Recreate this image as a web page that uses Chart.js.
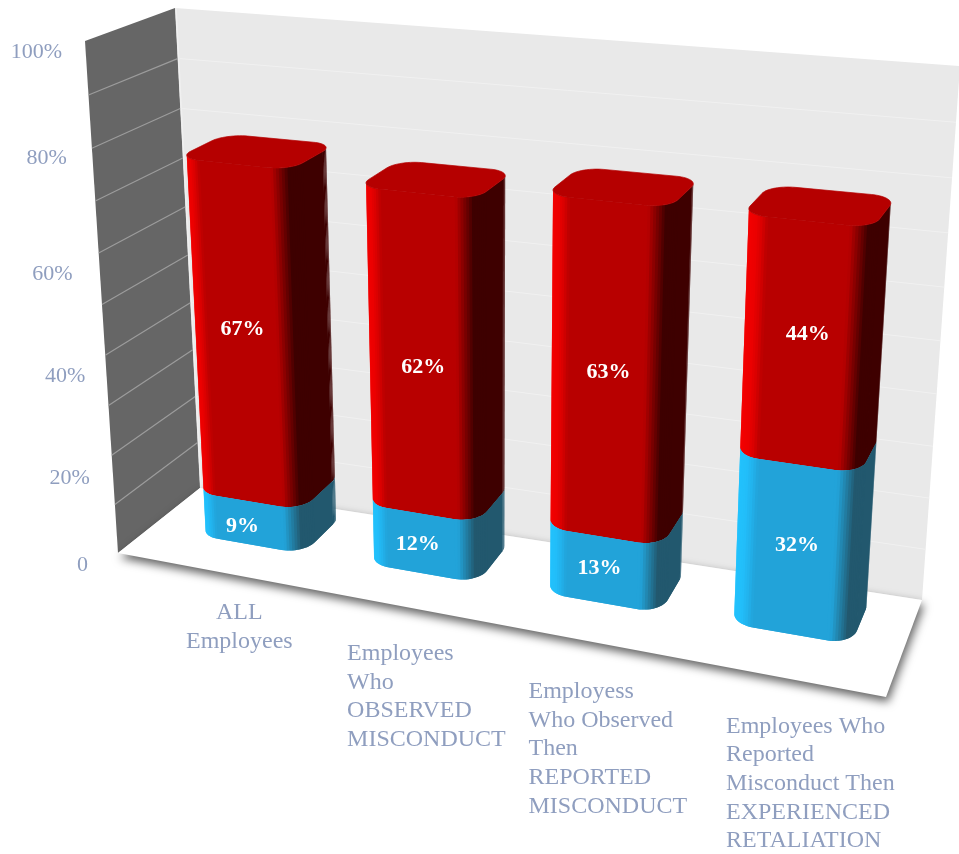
<!DOCTYPE html>
<html>
<head>
<meta charset="utf-8">
<style>html,body{margin:0;padding:0;background:#fff}canvas{display:block}</style>
<script src="https://cdn.jsdelivr.net/npm/chart.js@4"></script>
</head>
<body>
<canvas id="c" width="959" height="854"></canvas>
<script>
// Category labels, one array entry per printed line
const categories = [
  ["ALL", "Employees"],
  ["Employees", "Who", "OBSERVED", "MISCONDUCT"],
  ["Employess", "Who Observed", "Then", "REPORTED", "MISCONDUCT"],
  ["Employees Who", "Reported", "Misconduct Then", "EXPERIENCED", "RETALIATION"]
];
// Stacked percentages, bottom segment first
const lowerValues = [9, 12, 13, 32];
const upperValues = [67, 62, 63, 44];

const AXIS_COLOR = "#8f9ebf";
const SERIF = '"Liberation Serif", serif';

// Corners of the 3D chart box on the canvas: [x, y]
const box = {
  floorFrontLeft: [118, 553], floorFrontRight: [886, 697],
  floorBackLeft: [200, 488], floorBackRight: [922, 600],
  topFrontLeft: [85, 41], topFrontRight: [915, 115],
  topBackLeft: [175, 8], topBackRight: [960, 66]
};
const lerp = (a, b, t) => a + (b - a) * t;
const lerp2 = (a, b, t) => [lerp(a[0], b[0], t), lerp(a[1], b[1], t)];
const warp = (t, k) => t / (t + k * (1 - t));

// Trilinear projection of box coordinates (each 0..1) to canvas pixels
function project(u, v, w) {
  const fl = lerp2(box.floorFrontLeft, box.topFrontLeft, v);
  const fr = lerp2(box.floorFrontRight, box.topFrontRight, v);
  const bl = lerp2(box.floorBackLeft, box.topBackLeft, v);
  const br = lerp2(box.floorBackRight, box.topBackRight, v);
  return lerp2(lerp2(fl, fr, u), lerp2(bl, br, u), w);
}
// Scale pixels to box coordinates, with a mild perspective foreshortening
function boxU(chart, px) {
  const s = chart.scales.x;
  return 0.0215 + 0.9575 * warp((px - s.left) / s.width, 1.1);
}
function boxV(chart, py) {
  const s = chart.scales.y;
  return warp((s.bottom - py) / (s.bottom - s.top), 1.06);
}

// Depth range of the columns and the rounding of their footprint
const frontDepth = u => 0.39 + 0.07 * u;
const DEPTH_BACK = 0.97;
const ROUND_U = 0.2, ROUND_W = 0.28;

function footprint(u0, u1) {
  const front = frontDepth((u0 + u1) / 2);
  const rx = (u1 - u0) * ROUND_U, rw = (DEPTH_BACK - front) * ROUND_W;
  const corners = [
    [u0 + rx, front + rw, 180], [u1 - rx, front + rw, 270],
    [u1 - rx, DEPTH_BACK - rw, 360], [u0 + rx, DEPTH_BACK - rw, 450]
  ];
  const pts = [];
  corners.forEach(([cu, cw, start]) => {
    for (let i = 0; i <= 14; i++) {
      const a = start + i * 90 / 14, r = a * Math.PI / 180;
      pts.push({u: cu + rx * Math.cos(r), w: cw + rw * Math.sin(r), a});
    }
  });
  pts.push({...pts[0], a: 540});
  return pts;
}

// Colour ramps across the visible side of a column, from far left (-90) to far right (+90)
const shades = {
  red: [[-90, [252, 0, 0]], [-30, [236, 0, 0]], [-14, [216, 0, 0]], [0, [184, 0, 0]], [8, [184, 0, 0]], [48, [62, 0, 0]], [90, [62, 0, 0]]],
  blue: [[-90, [34, 198, 255]], [-30, [34, 190, 250]], [-14, [34, 178, 236]], [0, [34, 163, 217]], [8, [34, 163, 217]], [48, [34, 88, 110]], [90, [34, 88, 110]]]
};
function shade(stops, t) {
  for (let i = 1; i < stops.length; i++) {
    if (t <= stops[i][0]) {
      const f = (t - stops[i - 1][0]) / (stops[i][0] - stops[i - 1][0]);
      const c = stops[i - 1][1].map((x, k) => Math.round(lerp(x, stops[i][1][k], Math.max(0, f))));
      return `rgb(${c[0]},${c[1]},${c[2]})`;
    }
  }
  const c = stops[stops.length - 1][1];
  return `rgb(${c[0]},${c[1]},${c[2]})`;
}

function polygon(ctx, pts) {
  ctx.beginPath();
  pts.forEach((p, i) => i ? ctx.lineTo(p[0], p[1]) : ctx.moveTo(p[0], p[1]));
  ctx.closePath();
}

// Bar controller that renders each stacked segment as a rounded 3D column
class Column3DController extends Chart.BarController {
  draw() {
    const chart = this.chart, ctx = chart.ctx, meta = this.getMeta();
    const ds = this.getDataset();
    const stops = shades[ds.shade];
    meta.data.forEach(bar => {
      const half = bar.width / 2;
      const u0 = boxU(chart, bar.x - half), u1 = boxU(chart, bar.x + half);
      const v0 = boxV(chart, bar.base), v1 = boxV(chart, bar.y);
      const pts = footprint(u0, u1);
      // Strips run left to right, each overlapping the next so no seams show
      for (let i = 0; i < pts.length - 1; i++) {
        const a = pts[i], b = pts[i + 1], c = pts[Math.min(i + 2, pts.length - 1)];
        const q = [project(a.u, v0, a.w), project(b.u, v0, b.w), project(b.u, v1, b.w), project(a.u, v1, a.w)];
        let area = 0;
        q.forEach((p, k) => { const n = q[(k + 1) % 4]; area += p[0] * n[1] - n[0] * p[1]; });
        if (area >= 0) continue;
        const theta = (a.a + b.a) / 2 - 270;
        const col = shade(stops, theta);
        const next = project(c.u, v0, c.w), nextTop = project(c.u, v1, c.w);
        const visibleNext = (theta + (b.a + c.a) / 2 - 270) / 2 < 90;
        const wide = visibleNext ? [q[0], q[1], next, nextTop, q[2], q[3]] : q;
        ctx.fillStyle = col;
        polygon(ctx, wide); ctx.fill();
      }
      if (ds.capped) {
        polygon(ctx, pts.map(p => project(p.u, v1, p.w)));
        ctx.fillStyle = "#b50000"; ctx.strokeStyle = "#b50000"; ctx.lineWidth = 0.7;
        ctx.fill(); ctx.stroke();
      }
    });
  }
}
Column3DController.id = "column3d";
Column3DController.defaults = Chart.BarController.defaults;
Column3DController.overrides = Chart.BarController.overrides;
Chart.register(Column3DController);

// Offsets of axis text from the projected axis position: tick value -> [dx, dy]
const yLabelOffset = {100: [-23, 11], 80: [-25, 10], 60: [-26, 21], 40: [-20, 21], 20: [-22, 23], 0: [-30, 12]};
const xLabelOffset = [[-33, 41], [-47, 49], [-49, 52.5], [-44, 51]];
const LINE_HEIGHT = 28.7;
// Offsets of the value labels from the centre of each segment's front, per series
const lowerLabelOffset = [[-6, 4], [-3, 1], [-2, -2], [4, -5]];
const upperLabelOffset = [[2, -6], [5, 11], [4, 0], [6, -10]];

const scene = {
  id: "scene",
  beforeDatasetsDraw(chart) {
    const ctx = chart.ctx, y = chart.scales.y;
    // Back wall and side wall
    polygon(ctx, [project(0, 0, 1), project(0, 1, 1), project(1, 1, 1), project(1, 0, 1)]);
    ctx.fillStyle = "#e9e9e9"; ctx.fill();
    polygon(ctx, [project(0, 0, 0), project(0, 1, 0), project(0, 1, 1), project(0, 0, 1)]);
    ctx.fillStyle = "#666666"; ctx.fill();
    // Gridlines run along both walls
    y.ticks.forEach(t => {
      if (t.value === 0 || t.value === 100) return;
      const v = boxV(chart, y.getPixelForValue(t.value));
      const a = project(0, v, 0), b = project(0, v, 1), c = project(1, v, 1);
      ctx.lineWidth = 1.2;
      ctx.strokeStyle = "#9c9c9c";
      ctx.beginPath(); ctx.moveTo(a[0], a[1]); ctx.lineTo(b[0], b[1]); ctx.stroke();
      ctx.lineWidth = 1;
      ctx.strokeStyle = "#f1f1f1";
      ctx.beginPath(); ctx.moveTo(b[0] + 2, b[1]); ctx.lineTo(c[0], c[1]); ctx.stroke();
    });
    // Pale seam between the walls
    const s0 = project(0, 0, 1), s1 = project(0, 1, 1);
    ctx.strokeStyle = "#f0f0f0"; ctx.lineWidth = 1.5;
    ctx.beginPath(); ctx.moveTo(s0[0] + 1, s0[1]); ctx.lineTo(s1[0] + 1, s1[1]); ctx.stroke();
    // Floor with a soft drop shadow along its open edges
    ctx.save();
    ctx.shadowColor = "rgba(0,0,0,0.62)"; ctx.shadowBlur = 10; ctx.shadowOffsetX = 2; ctx.shadowOffsetY = 5;
    polygon(ctx, [project(0, 0, 0), project(1, 0, 0), project(1, 0, 1), project(0, 0, 1)]);
    ctx.fillStyle = "#ffffff"; ctx.fill();
    ctx.restore();
    // Value axis labels
    ctx.font = "22px " + SERIF; ctx.fillStyle = AXIS_COLOR;
    ctx.textAlign = "right"; ctx.textBaseline = "middle";
    y.ticks.forEach(t => {
      if (!t.label) return;
      const p = project(0, boxV(chart, y.getPixelForValue(t.value)), 0);
      const off = yLabelOffset[t.value];
      ctx.fillText(t.label, p[0] + off[0], p[1] + off[1]);
    });
    // Category labels under the front edge of the floor
    const x = chart.scales.x;
    ctx.font = "24px " + SERIF; ctx.textBaseline = "middle";
    categories.forEach((lines, i) => {
      const p = project(boxU(chart, x.getPixelForValue(i)), 0, 0);
      const left = p[0] + xLabelOffset[i][0], top = p[1] + xLabelOffset[i][1];
      ctx.textAlign = "left";
      lines.forEach((line, k) => {
        let lx = left;
        if (i === 0) { // first category is centred on its longest line
          const widest = Math.max(...lines.map(l => ctx.measureText(l).width));
          lx = left + (widest - ctx.measureText(line).width) / 2;
        }
        ctx.fillText(line, lx, top + k * LINE_HEIGHT);
      });
    });
  },
  afterDatasetsDraw(chart) {
    // Value labels on the front of each segment
    const ctx = chart.ctx;
    ctx.font = "bold 22px " + SERIF; ctx.fillStyle = "#ffffff";
    ctx.textAlign = "center"; ctx.textBaseline = "middle";
    const offsets = [lowerLabelOffset, upperLabelOffset];
    chart.data.datasets.forEach((ds, di) => {
      chart.getDatasetMeta(di).data.forEach((bar, i) => {
        const u = boxU(chart, bar.x), v = boxV(chart, (bar.y + bar.base) / 2);
        const p = project(u, v, frontDepth(u));
        ctx.fillText(ds.data[i] + "%", p[0] + offsets[di][i][0], p[1] + offsets[di][i][1]);
      });
    });
  }
};

new Chart(document.getElementById("c"), {
  type: "column3d",
  data: {
    labels: categories,
    datasets: [
      {label: "Lower", data: lowerValues, shade: "blue", capped: false, backgroundColor: "#22a3d9", barPercentage: 0.64, categoryPercentage: 1},
      {label: "Upper", data: upperValues, shade: "red", capped: true, backgroundColor: "#b80000", barPercentage: 0.64, categoryPercentage: 1}
    ]
  },
  options: {
    responsive: false,
    animation: false,
    events: [],
    layout: {padding: 0},
    plugins: {legend: {display: false}, tooltip: {enabled: false}},
    scales: {
      x: {type: "category", stacked: true, display: false},
      y: {
        type: "linear", stacked: true, display: false, min: 0, max: 100,
        ticks: {stepSize: 10, callback: v => v % 20 ? "" : (v === 0 ? "0" : v + "%")}
      }
    }
  },
  plugins: [scene]
});
</script>
</body>
</html>
